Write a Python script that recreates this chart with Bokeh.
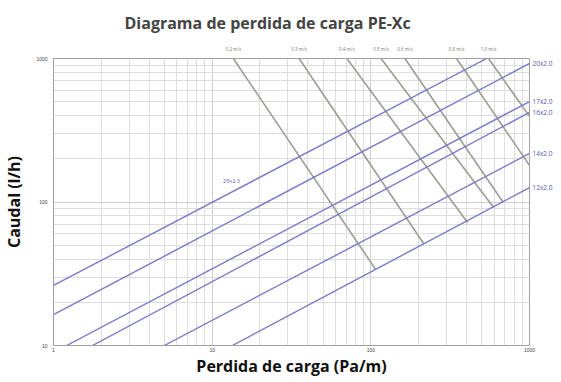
from bokeh.plotting import figure
from bokeh.models import Label, FixedTicker, Range1d, LogAxis, PrintfTickFormatter
from bokeh.embed import file_html
from bokeh.resources import INLINE

# ---- data ----
x_ticks = [1, 10, 100, 1000]
y_ticks = [10, 100, 1000]

pipe_names = ["25x2.3", "20x2.0", "17x2.0", "16x2.0", "14x2.0", "12x2.0"]
pipe_dp_start = [1.0, 1.0, 1.21, 1.76, 4.99, 13.4]
pipe_q_start = [26.2, 16.4, 10, 10, 10, 10]
pipe_dp_end = [537, 1000, 1000, 1000, 1000, 1000]
pipe_q_end = [1000, 923, 501, 421, 218, 126]

vel_names = ["0.2 m/s", "0.3 m/s", "0.4 m/s", "0.5 m/s", "0.6 m/s", "0.8 m/s", "1.0 m/s"]
vel_dp_start = [13.6, 35.3, 70.6, 116, 164, 347, 552]
vel_q_start = [1000, 1000, 1000, 1000, 1000, 1000, 1000]
vel_dp_end = [107, 215, 407, 594, 680, 1000, 1000]
vel_q_end = [34, 51.4, 72, 91.6, 100, 180, 395]

BLUE = "#7a7ac8"
GRAY = "#9d9d95"
FONT = "Open Sans"

p = figure(frame_width=476, frame_height=287, x_axis_type="log", y_axis_type="log",
           x_range=Range1d(1, 1000), y_range=Range1d(10, 1000),
           output_backend="svg", toolbar_location=None,
           min_border_left=48, min_border_right=20, min_border_top=53, min_border_bottom=20)

bx = p.below[0]
ly = p.left[0]

minor_x = [m * d for d in [1, 10, 100] for m in range(2, 10)]
minor_y = [m * d for d in [10, 100] for m in range(2, 10)]
bx.ticker = FixedTicker(ticks=x_ticks, minor_ticks=minor_x)
ly.ticker = FixedTicker(ticks=y_ticks, minor_ticks=minor_y)
bx.formatter = PrintfTickFormatter(format="%d")
ly.formatter = PrintfTickFormatter(format="%d")

# pipe names on a right-hand axis
right_ax = LogAxis(ticker=FixedTicker(ticks=pipe_q_end[1:], minor_ticks=[]),
                   major_label_overrides={q: n for q, n in zip(pipe_q_end[1:], pipe_names[1:])})
# velocity names on a top axis
top_ax = LogAxis(ticker=FixedTicker(ticks=vel_dp_start, minor_ticks=[]),
                 major_label_overrides={d: n for d, n in zip(vel_dp_start, vel_names)})
p.add_layout(right_ax, "right")
p.add_layout(top_ax, "above")

for ax in (bx, ly, right_ax, top_ax):
    ax.major_tick_line_color = None
    ax.minor_tick_line_color = None
    ax.major_tick_out = 0
    ax.minor_tick_out = 0
    ax.major_tick_in = 0
    ax.minor_tick_in = 0

for ax in (bx, ly):
    ax.axis_line_color = "#a0a0a0"
    ax.major_label_text_font_size = "5px"
    ax.major_label_text_color = "#444444"
    ax.axis_label_text_font = FONT
    ax.axis_label_text_font_style = "bold"
    ax.axis_label_text_font_size = "16px"
    ax.axis_label_text_color = "#111111"

for ax, size, col in ((right_ax, "6.5px", "#5a5ab4"), (top_ax, "4.5px", "#777777")):
    ax.axis_line_color = None
    ax.major_label_text_font = FONT
    ax.major_label_text_font_size = size
    ax.major_label_text_color = col
right_ax.major_label_standoff = 3
top_ax.major_label_standoff = 7

bx.axis_label = "Perdida de carga (Pa/m)"
ly.axis_label = "Caudal (l/h)"
bx.major_label_standoff = 2
bx.axis_label_standoff = 0
ly.major_label_standoff = 6
ly.axis_label_standoff = 8

p.xgrid.grid_line_color = "#cfcfcf"
p.ygrid.grid_line_color = "#cfcfcf"
p.xgrid.minor_grid_line_color = "#dedede"
p.ygrid.minor_grid_line_color = "#dedede"
p.outline_line_color = "#a0a0a0"

p.title.text = "Diagrama de perdida de carga PE-Xc"
p.title.align = "left"
p.title.text_font = FONT
p.title.text_font_style = "bold"
p.title.text_font_size = "16px"
p.title.standoff = 18
p.title.offset = 71

p.segment(x0=vel_dp_start, y0=vel_q_start, x1=vel_dp_end, y1=vel_q_end,
          line_color=GRAY, line_width=1.6)
p.segment(x0=pipe_dp_start, y0=pipe_q_start, x1=pipe_dp_end, y1=pipe_q_end,
          line_color=BLUE, line_width=1.4)

p.add_layout(Label(x=11.7, y=141, text=pipe_names[0], text_font=FONT,
                   text_font_size="5.5px", text_baseline="middle", text_color="#5858b0"))

open("out.html", "w").write(file_html(p, INLINE))
